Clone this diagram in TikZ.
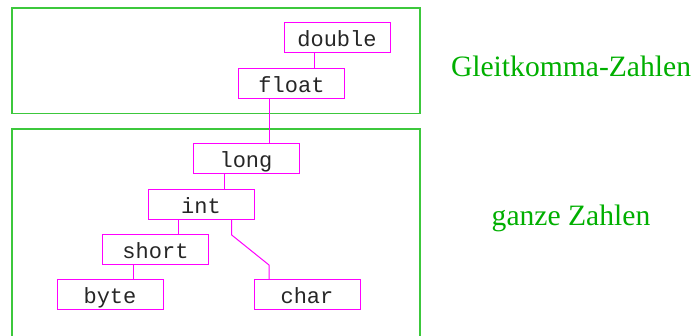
\documentclass[tikz,border=0pt]{standalone}
\usepackage{fontspec}
\setmainfont{Liberation Serif}
\setmonofont{Liberation Mono}
\definecolor{boxgreen}{RGB}{60,200,60}
\definecolor{textgreen}{RGB}{0,175,0}
\definecolor{typemag}{RGB}{255,0,255}
\tikzset{
  typebox/.style={draw=typemag, line width=1pt, rectangle, minimum width=106pt, minimum height=30pt, inner sep=0pt, text height=19.5pt, text depth=2pt, font=\ttfamily\fontsize{22}{25}\selectfont, text=black!85},
  conn/.style={draw=typemag, line width=1pt},
  region/.style={draw=boxgreen, line width=1.2pt},
  regionlabel/.style={text=textgreen, font=\fontsize{29.6}{34}\selectfont, inner sep=0pt, anchor=base}
}
\begin{document}
\begin{tikzpicture}[x=1pt,y=-1pt]
\useasboundingbox (0,0) rectangle (696,336);
\draw[region] (12,8) rectangle (420,113.5);
\draw[region] (12,340) -- (12,129) -- (420,129) -- (420,340);
\node[typebox] (double) at (337,38) {double};
\node[typebox] (float) at (291.5,83.5) {float};
\node[typebox] (long) at (246,159) {long};
\node[typebox] (int) at (201,204.3) {int};
\node[typebox] (short) at (155.5,250) {short};
\node[typebox] (byte) at (110,295) {byte};
\node[typebox] (char) at (307,295) {char};
\draw[conn] ([xshift=-23pt]double.south) -- ([xshift=22.5pt]float.north);
\draw[conn] ([xshift=-22.5pt]float.south) -- ([xshift=23pt]long.north);
\draw[conn] ([xshift=-22pt]long.south) -- ([xshift=23pt]int.north);
\draw[conn] ([xshift=-23pt]int.south) -- ([xshift=22.5pt]short.north);
\draw[conn] ([xshift=-22.5pt]short.south) -- ([xshift=23pt]byte.north);
\coordinate (bendA) at (231.7,235);
\coordinate (bendB) at (269,265);
\draw[conn] ([xshift=30.7pt]int.south) -- (bendA) -- (bendB) -- ([xshift=-38pt]char.north);
\node[regionlabel] (gleit) at (571,77) {Gleitkomma-Zahlen};
\node[regionlabel] (ganz) at (571,226) {ganze Zahlen};
\end{tikzpicture}
\end{document}
